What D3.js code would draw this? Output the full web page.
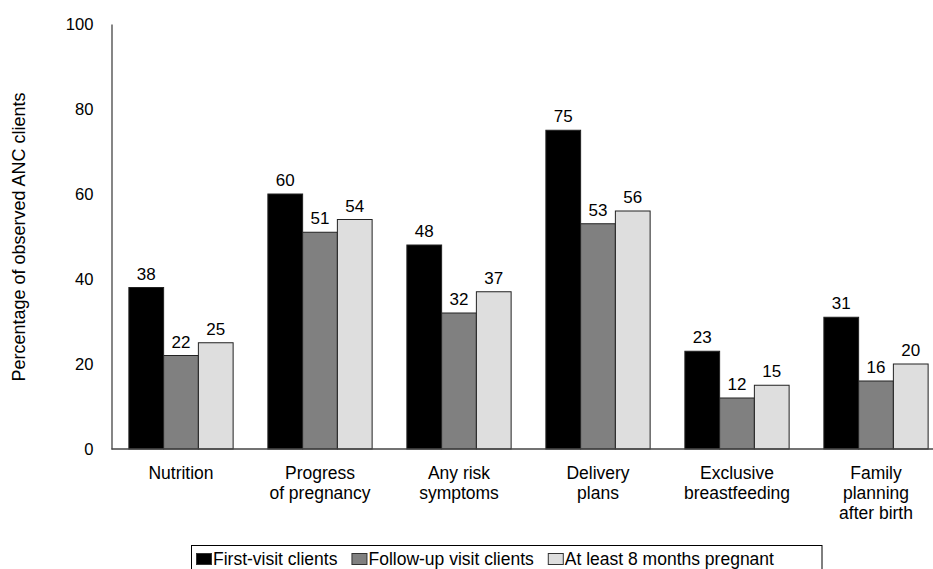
<!DOCTYPE html>
<html>
<head>
<meta charset="utf-8">
<script src="https://cdn.jsdelivr.net/npm/d3@7"></script>
<style>
  html, body { margin: 0; padding: 0; background: #fff; overflow: hidden; }
  svg { display: block; font-family: "Liberation Sans", Arial, sans-serif; }
</style>
</head>
<body>
<svg id="chart" width="933" height="569"></svg>
<script>
const categories = [
  ["Nutrition"],
  ["Progress", "of pregnancy"],
  ["Any risk", "symptoms"],
  ["Delivery", "plans"],
  ["Exclusive", "breastfeeding"],
  ["Family", "planning", "after birth"]
];
const seriesNames = ["First-visit clients", "Follow-up visit clients", "At least 8 months pregnant"];
const firstVisit = [38, 60, 48, 75, 23, 31];
const followUp = [22, 51, 32, 53, 12, 16];
const eightMonths = [25, 54, 37, 56, 15, 20];
const yTicks = [0, 20, 40, 60, 80, 100];
const colors = ["#000000", "#808080", "#dedede"];

const seriesValues = [firstVisit, followUp, eightMonths];
const svg = d3.select("#chart");

const plotLeft = 111.5, plotRight = 945.5, plotTop = 24, plotBottom = 449;

const x0 = d3.scaleBand().domain(d3.range(categories.length)).range([plotLeft, plotRight]).paddingInner(0.25).paddingOuter(0.125);
const x1 = d3.scaleBand().domain(d3.range(3)).range([0, x0.bandwidth()]);
const y = d3.scaleLinear().domain([0, 100]).range([plotBottom, plotTop]);

// Bars
const groups = svg.append("g").selectAll("g").data(categories).join("g")
  .attr("transform", (d, i) => `translate(${x0(i)},0)`);

groups.each(function(cat, ci) {
  const g = d3.select(this);
  seriesValues.forEach((vals, si) => {
    const v = vals[ci];
    g.append("rect")
      .attr("x", x1(si))
      .attr("y", y(v))
      .attr("width", x1.bandwidth())
      .attr("height", y(0) - y(v))
      .attr("fill", colors[si])
      .attr("stroke", "#222")
      .attr("stroke-width", 1);
    g.append("text")
      .attr("x", x1(si) + x1.bandwidth() / 2)
      .attr("y", y(v) - 8)
      .attr("text-anchor", "middle")
      .attr("font-size", 17)
      .attr("fill", "#000")
      .text(v);
  });
});

// Y axis
const yAxis = d3.axisLeft(y).tickValues(yTicks).tickSize(0).tickPadding(18);
const yg = svg.append("g").attr("transform", `translate(${plotLeft},0)`).call(yAxis);
yg.select(".domain").attr("stroke", "#444").attr("stroke-width", 1.3);
yg.selectAll("text").attr("font-size", 16.6).attr("font-family", "Liberation Sans, Arial, sans-serif").attr("fill", "#000");

// X axis
const xAxis = d3.axisBottom(x0).tickSize(0).tickFormat("");
const xg = svg.append("g").attr("transform", `translate(0,${plotBottom})`).call(xAxis);
xg.select(".domain").attr("stroke", "#444").attr("stroke-width", 1.3).attr("d", `M${plotLeft},0H${plotRight}`);

// Category labels
categories.forEach((lines, i) => {
  const cxp = x0(i) + x0.bandwidth() / 2;
  const t = svg.append("text")
    .attr("x", cxp)
    .attr("y", 479)
    .attr("text-anchor", "middle")
    .attr("font-size", 17.5)
    .attr("fill", "#000");
  lines.forEach((ln, k) => {
    t.append("tspan").attr("x", cxp).attr("dy", k === 0 ? 0 : 20).text(ln);
  });
});

// Y axis title
svg.append("text")
  .attr("transform", `translate(25,237) rotate(-90)`)
  .attr("text-anchor", "middle")
  .attr("font-size", 18)
  .attr("fill", "#000")
  .text("Percentage of observed ANC clients");

// Legend
const legend = svg.append("g");
const lx = 191.5, ly = 545.5;
let cx = 196;
const box = legend.append("rect").attr("x", lx).attr("y", ly).attr("height", 40)
  .attr("fill", "#fff").attr("stroke", "#000").attr("stroke-width", 1);
seriesNames.forEach((name, i) => {
  legend.append("rect").attr("x", cx + 0.5).attr("y", 553.5).attr("width", 15).attr("height", 11)
    .attr("fill", colors[i]).attr("stroke", "#333").attr("stroke-width", 1);
  cx += 17;
  const t = legend.append("text").attr("x", cx).attr("y", 565).attr("font-size", 17.5).attr("fill", "#000").text(name);
  cx += t.node().getComputedTextLength() + 14;
});
box.attr("width", 822 - lx);
</script>
</body>
</html>
